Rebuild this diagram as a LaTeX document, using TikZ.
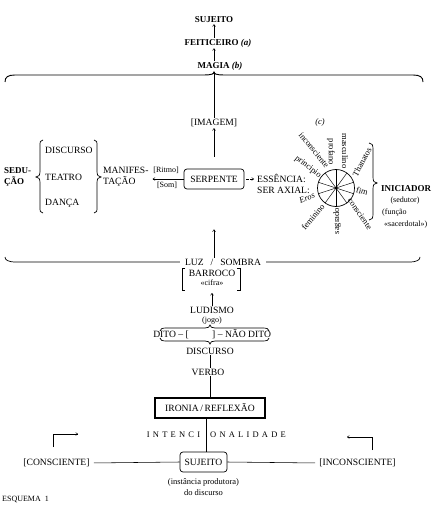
\documentclass[tikz,border=0pt]{standalone}
\usepackage{fontspec}
\setmainfont{Liberation Serif}
\usetikzlibrary{arrows.meta,calc}
\newcommand{\ls}{\hspace{3.2pt}}
\begin{document}
\begin{tikzpicture}[x=1pt,y=-1pt,
  lbl/.style={inner sep=1pt, font=\fontsize{9.6}{10.8}\selectfont},
  blbl/.style={inner sep=1pt, font=\fontsize{9}{11}\selectfont\bfseries},
  sm/.style={inner sep=1pt, font=\fontsize{8}{9}\selectfont},
  wl/.style={inner sep=0.5pt, font=\fontsize{8.5}{9}\selectfont},
  arr/.style={-{To[length=2.5pt,width=3.2pt]}, line width=0.5pt},
  ln/.style={line width=0.55pt},
  brc/.style={line width=0.7pt},
  rbox/.style={draw, rounded corners=3pt, line width=0.7pt, minimum height=20pt},
]
\useasboundingbox (0,0) rectangle (432,505);

% ---- top chain
\node[blbl] (suj1) at (214,20) {SUJEITO};
\node[blbl] (feit) at (218,43) {FEITICEIRO \textit{(a)}};
\node[blbl] (mag) at (220,66) {MAGIA \textit{(b)}};
\draw[arr] (feit.north -| suj1.south) -- (suj1.south);
\draw[arr] (mag.north -| suj1.south) -- (feit.south -| suj1.south);

% top brace
\coordinate (ttip) at (214,72);
\draw[brc,line width=0.9pt] (5,82) .. controls (5,77) and (8,75) .. (15,75) -- (204,75)
  .. controls (211,75) and (214,74) .. (ttip) .. controls (214,74) and (217,75) .. (224,75)
  -- (413,75) .. controls (420,75) and (423,77) .. (423,82);

\node[lbl] (img) at (214,123) {[IMAGEM]};
\draw[arr] (img.north) -- (ttip);
\node[sm, font=\fontsize{8.5}{9}\selectfont\itshape] (cc) at (320,122) {(c)};

% ---- middle row
\node[rbox, lbl, minimum width=60pt] (serp) at (214,179) {SERPENTE};
\draw[arr, shorten <=12pt] (serp.north) -- (img.south);

\node[lbl, align=left, anchor=west] (man) at (102,177) {MANIFES-\\TAÇÃO};
\draw[arr, shorten >=3pt] (serp.west) -- (man.east |- serp.west);
\node[sm] (rit) at (166,170) {[Ritmo]};
\node[sm] (som) at (167,185) {[Som]};

% SEDUCAO block
\node[blbl, align=left, anchor=west] (sed) at (3,177) {SEDU-\\ÇÃO};
\node[lbl, anchor=west] (disc1) at (44,150) {DISCURSO};
\node[lbl, anchor=west] (teat) at (44,177) {TEATRO};
\node[lbl, anchor=west] (danc) at (44,203) {DANÇA};
\draw[brc] (43,140) .. controls (40,140) and (40,142) .. (40,146) -- (40,171)
  .. controls (40,175) and (39,177) .. (36,177) .. controls (39,177) and (40,179) .. (40,183)
  -- (40,207) .. controls (40,211) and (40,213) .. (43,213);
\draw[brc] (94,140) .. controls (97,140) and (97,142) .. (97,146) -- (97,171)
  .. controls (97,175) and (98,177) .. (101,177) .. controls (98,177) and (97,179) .. (97,183)
  -- (97,207) .. controls (97,211) and (97,213) .. (94,213);

% essence + wheel
\node[lbl, align=left, anchor=west] (ess) at (256,184) {ESSÊNCIA:\\SER AXIAL:};
\draw[arr, dash pattern=on 2.5pt off 1.5pt, shorten <=2pt, shorten >=2pt] (serp.east) -- (serp.east -| ess.west);

\coordinate (wc) at (336,188);
\draw[line width=0.7pt] (wc) circle[radius=18.5pt];
\foreach \a in {18,54,90,126,162}
  \draw[line width=0.45pt] ($(wc)+(\a:18.5pt)$) -- ($(wc)+(\a+180:18.5pt)$);
\fill (wc) circle[radius=1.3pt];

\node[wl, rotate=-51] (w1) at (314,150) {inconsciente};
\node[wl, rotate=-38] (w2) at (308,167) {principio};
\node[wl, rotate=-90] (w3) at (331,152) {profano};
\node[wl, rotate=-90] (w4) at (345,151) {masculino};
\node[wl, rotate=62] (w5) at (362,162) {Thanatos};
\node[wl, rotate=-15] (w6) at (362,191) {fim};
\node[wl, rotate=-55] (w7) at (360,214) {consciente};
\node[wl, rotate=90] (w8) at (337,221) {sagrado};
\node[wl, rotate=50] (w9) at (313,217) {feminino};
\node[wl, rotate=22, font=\fontsize{8.5}{9}\selectfont\itshape] (w10) at (307,198) {Eros};

\draw[brc] (369,143) .. controls (372,143) and (373,145) .. (373,149) -- (373,177)
  .. controls (373,181) and (374,183) .. (377,183) .. controls (374,183) and (373,185) .. (373,189)
  -- (373,214) .. controls (373,218) and (372,220) .. (369,220);
\node[blbl, anchor=west] (ini) at (380,189) {INICIADOR};
\node[sm] (sedu) at (405,201) {(sedutor)};
\node[sm, anchor=west] (func) at (381,213) {(função};
\node[sm, anchor=west] (sac) at (383,225) {«sacerdotal»)};

% ---- bottom brace with LUZ / SOMBRA
\node[lbl, inner xsep=5pt] (luz) at (223,262) {LUZ\hspace{7pt}/\hspace{7pt}SOMBRA};
\draw[brc] (5,257) .. controls (5,260) and (8,262) .. (16,262) -- (luz.west);
\draw[brc] (luz.east) -- (409,262) .. controls (417,262) and (420,260) .. (420,257);
\draw[arr, shorten >=40pt] (luz.north -| serp.south) -- (serp.south);

% ---- barroco / ludismo
\node[lbl] (bar) at (212,273) {BARROCO};
\node[sm] (cif) at (212,283) {«cifra»};
\draw[line width=0.6pt] (185,268) -- (182,268) -- (182,290) -- (185,290);
\draw[line width=0.6pt] (237,268) -- (240,268) -- (240,290) -- (237,290);
\node[lbl] (lud) at (212,310) {LUDISMO};
\node[sm] (jogo) at (212,321) {(jogo)};
\draw[arr, shorten >=6pt] (lud.north) -- (cif.south);

% dito braces
\draw[brc] (160,331) .. controls (160,329) and (162,328) .. (166,328) -- (205,328)
  .. controls (208,328) and (210,327) .. (210,325) .. controls (210,327) and (212,328) .. (215,328)
  -- (263,328) .. controls (267,328) and (269,329) .. (269,331);
\node[lbl, anchor=east] (dito) at (190,334.5) {DITO – [};
\node[lbl, anchor=west] (ndito) at (211,334.5) {] – NÃO DITO};
\draw[brc] (160,338) .. controls (160,340) and (162,341) .. (166,341) -- (205,341)
  .. controls (208,341) and (210,342) .. (210,344) .. controls (210,342) and (212,341) .. (215,341)
  -- (263,341) .. controls (267,341) and (269,340) .. (269,338);
\node[lbl] (disc2) at (210,351) {DISCURSO};
\node[lbl] (verbo) at (208,372) {VERBO};
\node[draw, line width=1.1pt, lbl, minimum width=110pt, minimum height=20pt] (iron) at (210,408) {IRONIA\,/\,REFLEXÃO};
\draw[ln] (disc2.south -| iron.north) -- (verbo.north -| iron.north);
\draw[ln] (verbo.south -| iron.north) -- (iron.north);

% ---- intencionalidade / sujeito
\node[lbl, font=\fontsize{8.5}{10}\selectfont] (int1) at (173.5,435) {I\ls N\ls T\ls E\ls N\ls C\ls I};
\node[lbl, font=\fontsize{8.5}{10}\selectfont] (int2) at (248,435) {O\ls N\ls A\ls L\ls I\ls D\ls A\ls D\ls E};
\node[rbox, lbl, minimum width=47pt] (sj) at (203.5,462) {SUJEITO};
\draw[ln] ([xshift=-4pt]iron.south) -- ([xshift=2.5pt]sj.north);
\node[lbl] (cons) at (56.5,463) {[CONSCIENTE]};
\node[lbl] (incons) at (357.5,463) {[INCONSCIENTE]};
\draw[ln, shorten <=3pt] (cons.east) -- (sj.west);
\draw[ln, shorten >=3pt] (sj.east) -- (incons.west);
\draw[arr] (53,447) -- (53,434) -- (78,434);
\draw[arr] (372,450) -- (372,437) -- (347,437);
\node[sm, font=\fontsize{8.5}{9}\selectfont] (inst) at (203.5,482) {(instância produtora)};
\node[sm, font=\fontsize{8.5}{9}\selectfont] (dodisc) at (203.5,493) {do discurso};
\node[sm, font=\fontsize{8}{9}\selectfont, anchor=west] (esq) at (1,499) {ESQUEMA\hspace{4pt}1};
\end{tikzpicture}
\end{document}
